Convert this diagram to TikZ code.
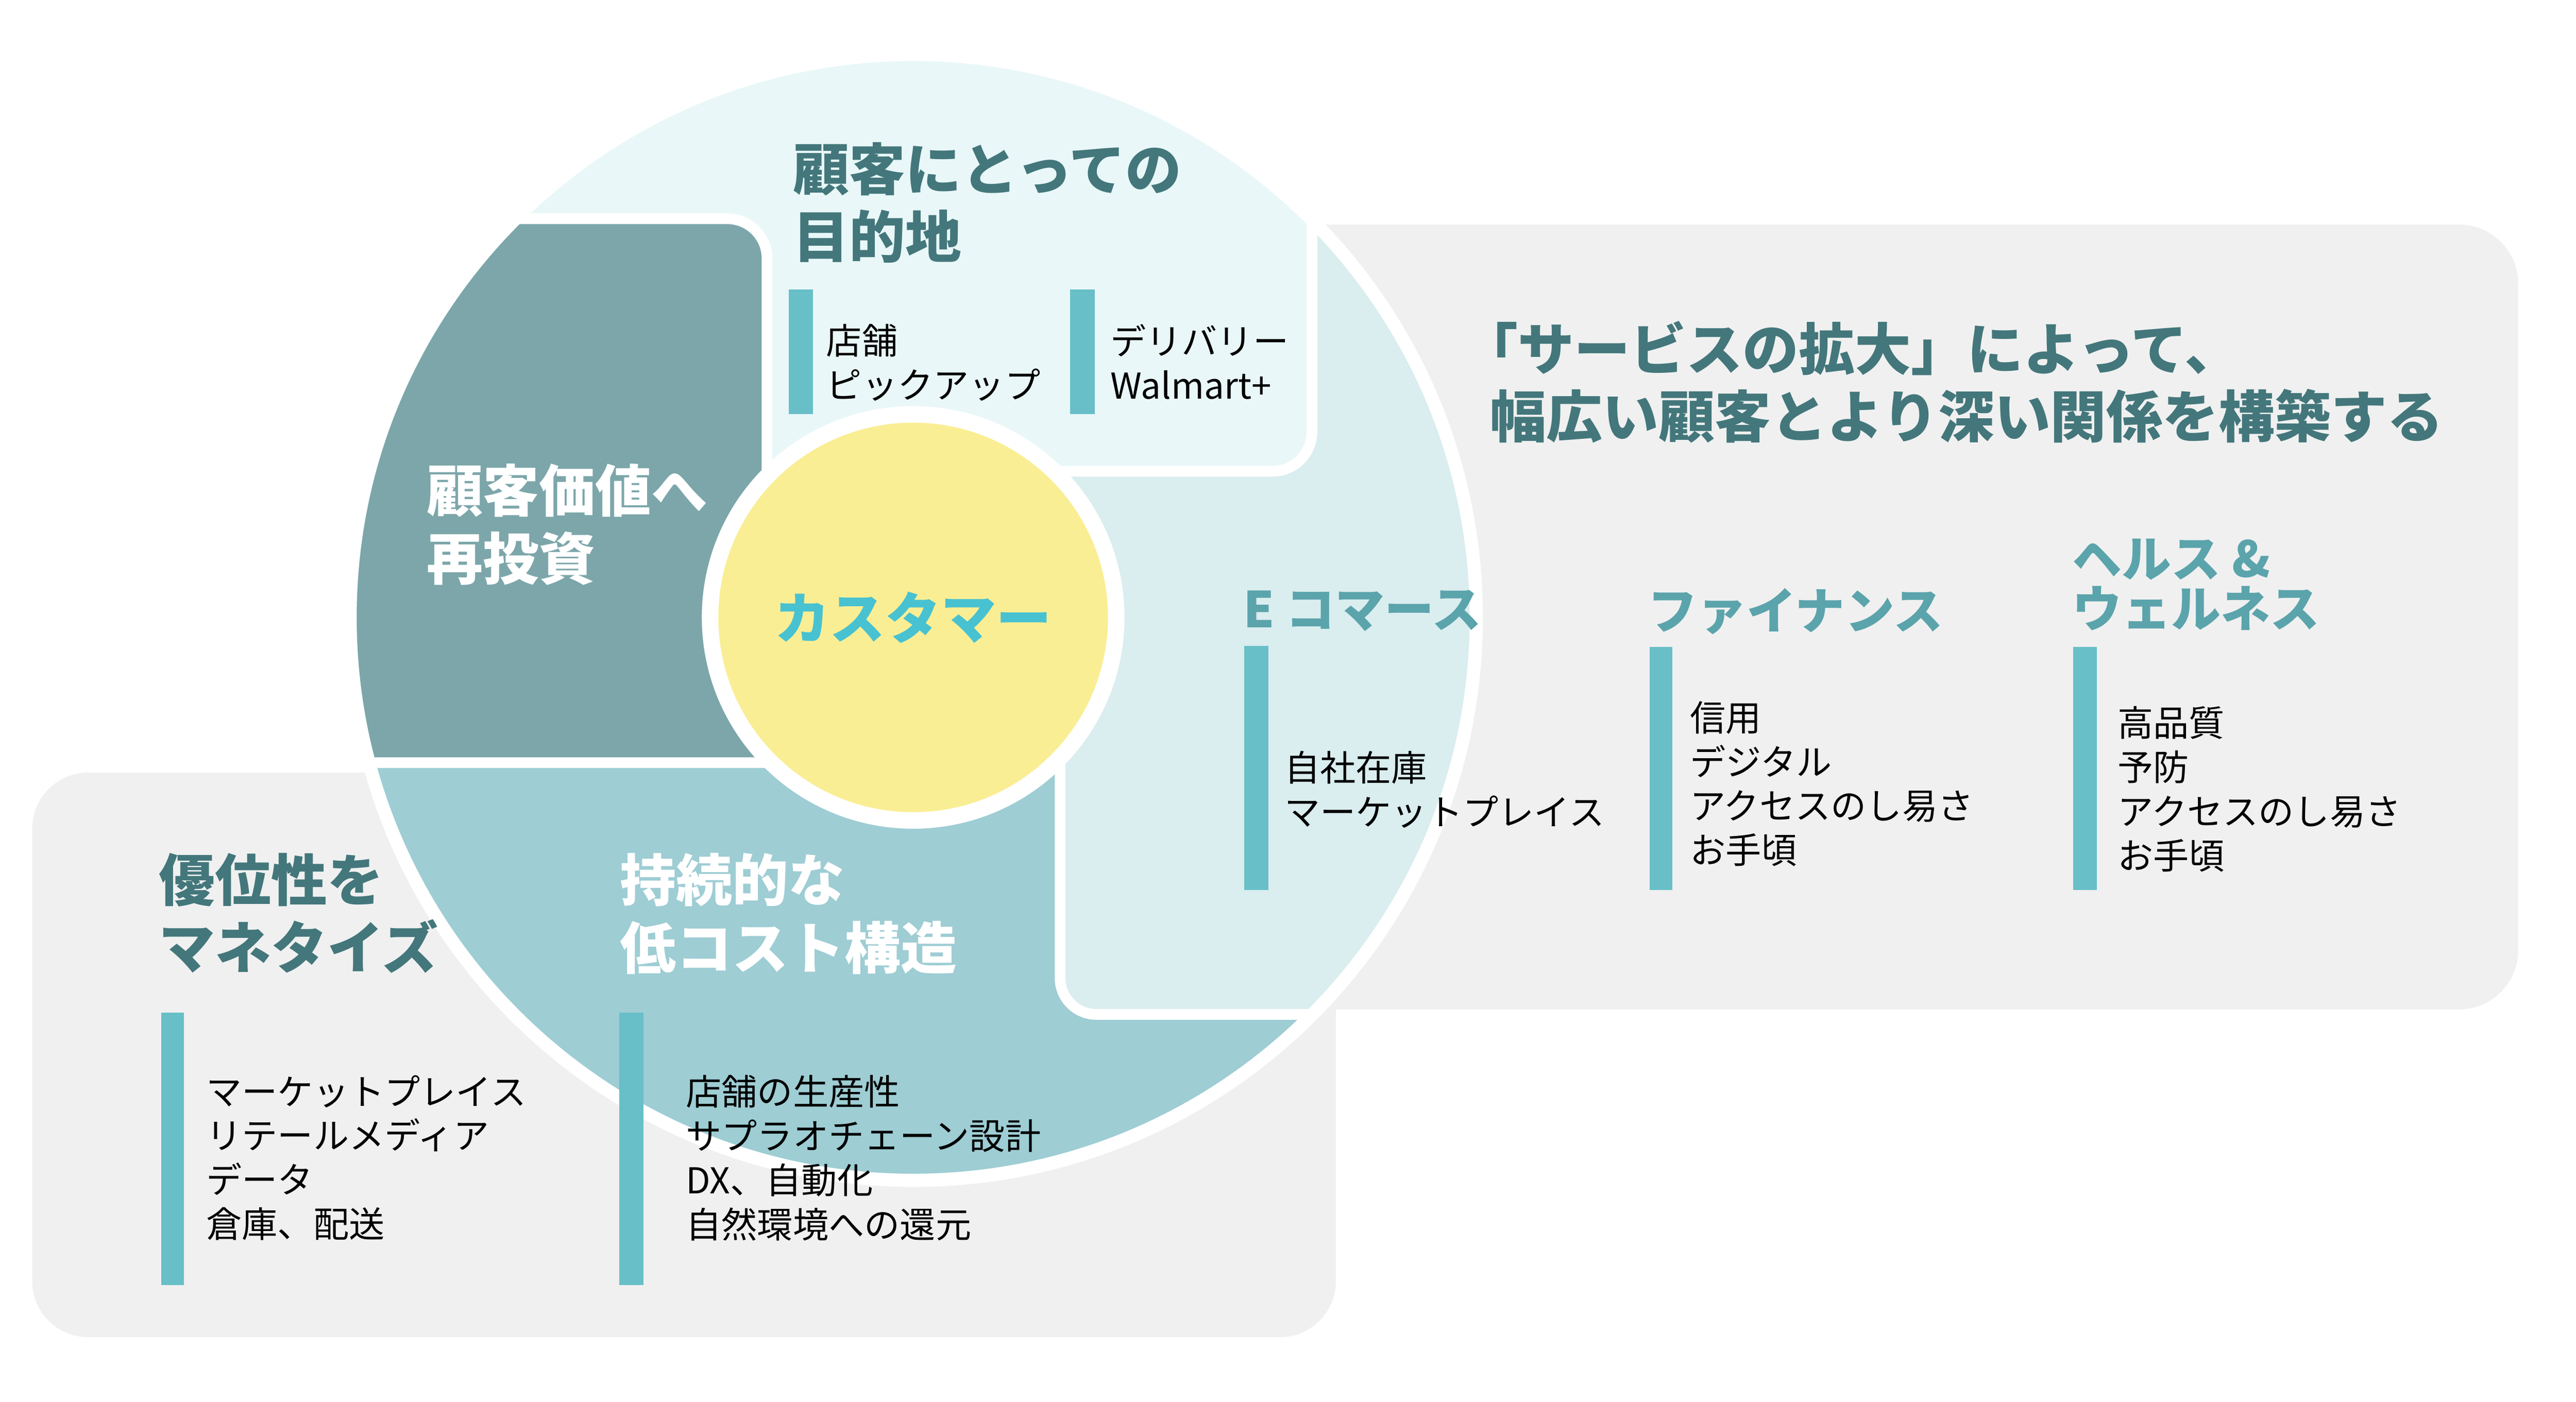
\documentclass[tikz,border=0pt]{standalone}
\usepackage{xcolor}
\usepackage{tikz}
\usepackage{fontspec}
\newfontfamily\cjk{Noto Sans CJK JP}
\definecolor{bgGray}{HTML}{F0F0F0}
\definecolor{segTop}{HTML}{E9F7F8}
\definecolor{segRight}{HTML}{DAEDEF}
\definecolor{segBottom}{HTML}{9ECDD4}
\definecolor{segLeft}{HTML}{7CA6AA}
\definecolor{hubYellow}{HTML}{FAEE94}
\definecolor{hubText}{HTML}{48C2D1}
\definecolor{headTeal}{HTML}{43777B}
\definecolor{catTeal}{HTML}{5BA4AC}
\definecolor{barTeal}{HTML}{68BFC8}
\tikzset{
  head/.style={font=\cjk\bfseries\fontsize{17}{20.5}\selectfont, text=headTeal, align=left, inner sep=0pt},
  cat/.style={font=\cjk\bfseries\fontsize{15}{15.2}\selectfont, text=catTeal, align=left, inner sep=0pt},
  item/.style={font=\cjk\fontsize{10.8}{13.4}\selectfont, align=left, inner sep=0pt},
  bar/.style={fill=barTeal},
  seg/.style={draw=white, line width=3.25pt}
}
\begin{document}
\begin{tikzpicture}[x=0.5pt,y=-0.5pt]
\useasboundingbox (0,0) rectangle (1560,849);
\fill[white] (0,0) rectangle (1560,849);
% gray panels
\fill[bgGray, rounded corners=18pt] (700,136) rectangle (1525,611.5);
\fill[bgGray, rounded corners=17pt] (19.5,468) rectangle (809,810);
% wheel
\begin{scope}
\clip (553,374) circle[radius=341];
\fill[segBottom] (553,374) circle[radius=341];
\filldraw[seg, fill=segRight] (1000,-100) -- (642,-100) -- (642,592.5) arc[start angle=180,end angle=90,radius=22] -- (1000,614.5) -- cycle;
\filldraw[seg, fill=segTop] (100,-100) -- (794.5,-100) -- (794.5,261.5) arc[start angle=0,end angle=90,radius=24] -- (100,285.5) -- cycle;
\filldraw[seg, fill=segLeft] (100,462) -- (100,132.5) -- (440.5,132.5) arc[start angle=270,end angle=360,radius=24] -- (464.5,462) -- cycle;
\end{scope}
\draw[white, line width=4pt] (553,374) circle[radius=341];
\node[circle, fill=hubYellow, draw=white, line width=5pt, minimum size=123pt, inner sep=0pt,
  font=\cjk\bfseries\fontsize{16.8}{20}\selectfont, text=hubText] (hub) at (553,374) {\raisebox{-1pt}{カスタマー}};
% bars
\fill[bar] (477.7,175.4) rectangle (492.3,250.7);
\fill[bar] (648,175.4) rectangle (663,250.7);
\fill[bar] (753.5,391.3) rectangle (768,539);
\fill[bar] (998.9,392) rectangle (1012.9,539);
\fill[bar] (1255.6,392) rectangle (1269.9,539);
\fill[bar] (97.7,613.3) rectangle (111.3,778.4);
\fill[bar] (375,613.3) rectangle (389.8,778.4);
% headings
\node[head, below right] (dest) at (480,85.7) {顧客にとっての\\目的地};
\node[head, below right] (growth) at (902,194) {\hspace*{-.5em}「サービスの拡大」によって、\\幅広い顧客とより深い関係を構築する};
\node[head, text=white, below right] (reinvest) at (258,280.6) {顧客価値へ\\再投資};
\node[head, below right] (monetize) at (96,516.4) {優位性を\\マネタイズ};
\node[head, text=white, below right] (lowcost) at (375,516.4) {持続的な\\低コスト構造};
% categories
\node[cat, below right] (ecom) at (752.5,357) {E コマース};
\node[cat, below right] (fin) at (997.5,356) {ファイナンス};
\node[cat, below right] (health) at (1254.5,326) {ヘルス \&\\ウェルネス};
% items
\node[item, below right] (store) at (500,196) {店舗\\ピックアップ};
\node[item, below right] (deliv) at (672,196) {デリバリー\\Walmart+};
\node[item, below right] (ecomlist) at (777.5,454.5) {自社在庫\\マーケットプレイス};
\node[item, below right] (finlist) at (1023,424.3) {信用\\デジタル\\アクセスのし易さ\\お手頃};
\node[item, below right] (healthlist) at (1282,427.5) {高品質\\予防\\アクセスのし易さ\\お手頃};
\node[item, below right] (monlist) at (124.5,650.9) {マーケットプレイス\\リテールメディア\\データ\\倉庫、配送};
\node[item, below right] (costlist) at (415,650.9) {店舗の生産性\\サプラオチェーン設計\\DX、自動化\\自然環境への還元};
\end{tikzpicture}
\end{document}
